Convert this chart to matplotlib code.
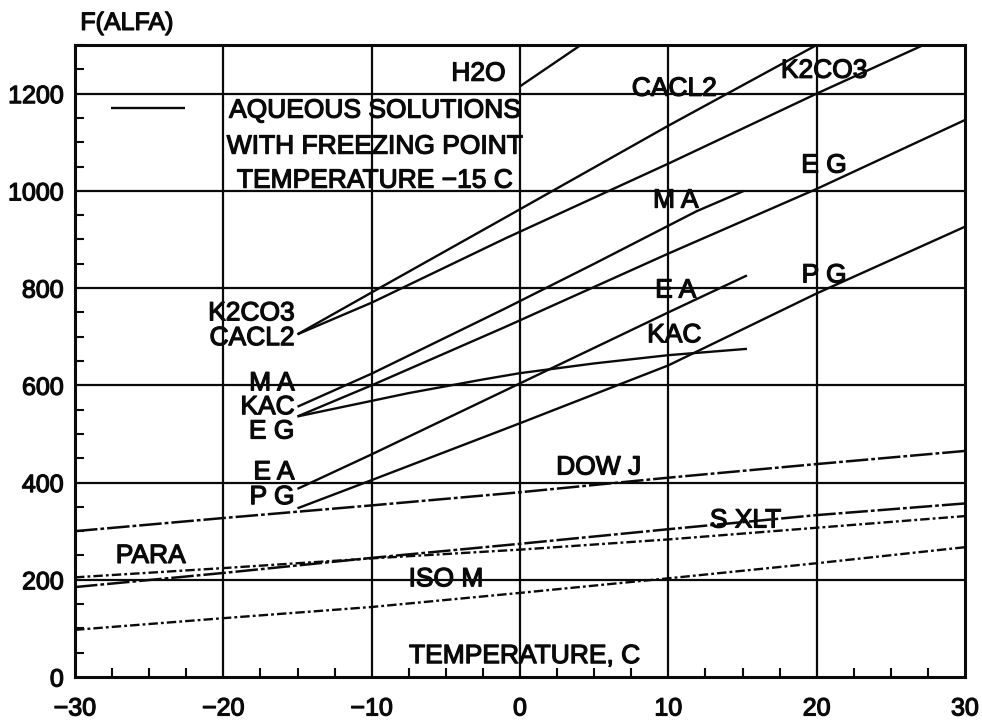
import matplotlib
matplotlib.use("Agg")
import matplotlib.pyplot as plt
import matplotlib.patheffects as pe
from matplotlib.ticker import MultipleLocator

plt.rcParams["font.family"] = ["Liberation Sans", "DejaVu Sans"]

# ---- heat-transfer factor F(ALFA) versus temperature (deg C) ----
# aqueous solutions (freezing point -15 C)
h2o_t = [0, 4.1]
h2o_f = [1215, 1300]

cacl2_t = [-15, -10, -1, 10, 20]
cacl2_f = [705, 791, 945, 1134, 1300]

k2co3_t = [-15, -10, -1, 10, 20, 27.2]
k2co3_f = [705, 770, 902, 1056, 1200, 1300]

ma_t = [-15, -10, -1, 5, 11.9, 15.1]
ma_f = [556, 624, 758, 850, 958, 1000]

eg_t = [-15, -10, -1, 10, 20, 30.3]
eg_f = [536, 600, 720, 871, 1004, 1150]

kac_t = [-15, -12.5, -10, -7.5, -5, -2.5, 0, 5, 10, 15.3]
kac_f = [536, 552, 568, 584, 598, 612, 625, 645, 662, 675]

ea_t = [-15, -10, 0, 10, 15.3]
ea_f = [387, 458, 604, 750, 826]

pg_t = [-15, -10, 0, 10, 20, 30.2]
pg_f = [347, 405, 522, 641, 789, 929]

# non-aqueous heat-transfer fluids
fluid_t = [-30, -20, -10, 0, 10, 20, 30]
dowj_f = [300, 327, 353, 380, 410, 438, 465]
sxlt_f = [185, 214, 245, 274, 304, 333, 357]
para_f = [205, 224, 244, 262, 283, 307, 331]
isom_f = [97, 121, 144, 173, 203, 234, 267]

x_ticks = [-30, -20, -10, 0, 10, 20, 30]
y_ticks = [0, 200, 400, 600, 800, 1000, 1200]

ink = "#0a0a0a"
heavy = [pe.withStroke(linewidth=0.9, foreground=ink)]

fig = plt.figure(figsize=(9.82, 7.22), dpi=100)
ax = fig.add_axes([75 / 982, 1 - 677 / 722, 890 / 982, 632 / 722])
ax.set_xlim(-30, 30)
ax.set_ylim(0, 1300)

solid = dict(color=ink, lw=1.7, solid_capstyle="butt")
dashdot = dict(color=ink, lw=1.7, linestyle=(0, (4, 1.3, 1.2, 1.3)))
denser = dict(color=ink, lw=1.8, linestyle=(0, (9, 1.2, 1.5, 1.2)))

for t, f in [(h2o_t, h2o_f), (cacl2_t, cacl2_f), (k2co3_t, k2co3_f),
             (ma_t, ma_f), (eg_t, eg_f), (kac_t, kac_f), (ea_t, ea_f),
             (pg_t, pg_f)]:
    ax.plot(t, f, **solid)

ax.plot(fluid_t, dowj_f, **denser)
ax.plot(fluid_t, sxlt_f, **denser)
ax.plot(fluid_t, para_f, **dashdot)
ax.plot(fluid_t, isom_f, **dashdot)

# grid
for gx in x_ticks[1:-1]:
    ax.axvline(gx, color=ink, lw=1.6, zorder=1)
for gy in y_ticks[1:]:
    ax.axhline(gy, color=ink, lw=1.6, zorder=1)

for s in ax.spines.values():
    s.set_linewidth(2.2)
    s.set_color(ink)

ax.set_xticks(x_ticks)
ax.set_yticks(y_ticks)
ax.set_xticklabels([str(v).replace("-", "\u2212") for v in x_ticks])
ax.xaxis.set_minor_locator(MultipleLocator(2.5))
ax.yaxis.set_minor_locator(MultipleLocator(50))
ax.tick_params(which="major", length=0, labelsize=18, colors=ink)
ax.tick_params(axis="x", which="major", pad=14)
ax.tick_params(axis="y", which="major", pad=8)
ax.tick_params(which="minor", direction="in", length=6.5, width=1.5, colors=ink)
for lab in ax.get_xticklabels() + ax.get_yticklabels():
    lab.set_path_effects(heavy)

fs = 19
txt = dict(fontsize=fs, color=ink, ha="center", va="center", path_effects=heavy)

ax.text(0.006, 1.035, "F(ALFA)", transform=ax.transAxes, fontsize=18,
        color=ink, ha="left", va="center", path_effects=heavy)

# legend key for the aqueous group
ax.plot([-27.6, -22.6], [1171, 1171], **solid)
ax.text(-9.8, 1165, "AQUEOUS SOLUTIONS", **txt)
ax.text(-9.8, 1091, "WITH FREEZING POINT", **txt)
ax.text(-9.8, 1021, "TEMPERATURE \u221215 C", **txt)

# curve names at the right-hand ends
ax.text(-2.8, 1241, "H2O", **txt)
ax.text(10.4, 1210, "CACL2", **txt)
ax.text(20.5, 1247, "K2CO3", **txt)
ax.text(20.5, 1052, "E G", **txt)
ax.text(10.5, 980, "M A", **txt)
ax.text(20.5, 826, "P G", **txt)
ax.text(10.5, 795, "E A", **txt)
ax.text(10.4, 703, "KAC", **txt)

# curve names at the left-hand ends
left = dict(fontsize=fs, color=ink, ha="right", va="center", path_effects=heavy)
ax.text(-15.2, 748, "K2CO3", **left)
ax.text(-15.2, 697, "CACL2", **left)
ax.text(-15.2, 604, "M A", **left)
ax.text(-15.2, 555, "KAC", **left)
ax.text(-15.2, 505, "E G", **left)
ax.text(-15.2, 421, "E A", **left)
ax.text(-15.2, 370, "P G", **left)

# non-aqueous fluids
ax.text(5.3, 431, "DOW J", **txt)
ax.text(15.2, 322, "S XLT", **txt)
ax.text(-5.0, 201, "ISO M", **txt)
ax.text(-24.9, 249, "PARA", **txt)

ax.text(0.3, 43, "TEMPERATURE, C", **txt)

fig.savefig("out.png", dpi=100, facecolor="white")
